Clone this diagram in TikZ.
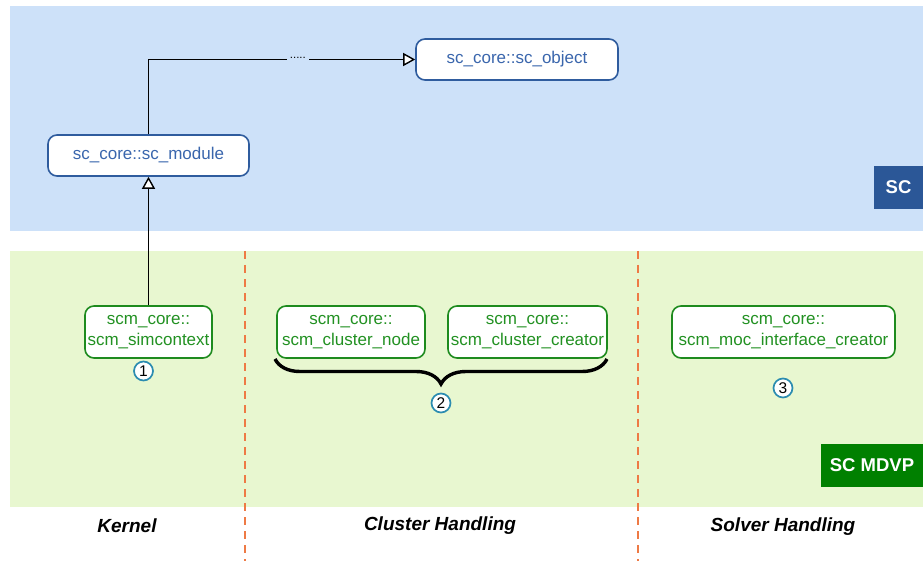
\documentclass[tikz,border=0pt]{standalone}
\usepackage{fontspec}
\setmainfont{Liberation Sans}
\usetikzlibrary{arrows.meta,decorations.pathreplacing}
\definecolor{bgblue}{HTML}{CDE1F9}
\definecolor{bgreen}{HTML}{E8F7D0}
\definecolor{nblue}{HTML}{2F5C9E}
\definecolor{tblue}{HTML}{3A66AD}
\definecolor{scblue}{HTML}{2B5797}
\definecolor{ngreen}{HTML}{1E8B1E}
\definecolor{tgreen}{HTML}{229122}
\definecolor{mdvp}{HTML}{008000}
\definecolor{dorange}{HTML}{EE7A45}
\definecolor{teal}{HTML}{2B8CB0}
\tikzset{
  bluebox/.style={draw=nblue, line width=1.6pt, fill=white, rounded corners=9pt, text=tblue,
    font=\fontsize{17}{20.5}\selectfont, inner sep=0pt, minimum height=41pt, align=center},
  greenbox/.style={draw=ngreen, line width=1.6pt, fill=white, rounded corners=9pt, text=tgreen,
    font=\fontsize{17}{20.5}\selectfont, inner sep=0pt, minimum height=52pt, align=center},
  numc/.style={circle, draw=teal, line width=1.7pt, fill=white, inner sep=0pt, minimum size=19pt,
    font=\fontsize{15.5}{15.5}\selectfont},
  lanelbl/.style={font=\fontsize{19}{22}\selectfont\bfseries\itshape},
  tagbox/.style={text=white, font=\fontsize{18.5}{20}\selectfont\bfseries, inner sep=0pt, minimum height=43pt},
  lanesep/.style={draw=dorange, line width=1.7pt, dash pattern=on 8pt off 6pt},
  inherit/.style={draw=black, line width=1.4pt, -{Triangle[open, length=12pt, width=13pt, fill=white]}},
}
\begin{document}
\begin{tikzpicture}[x=1pt, y=-1pt]
\useasboundingbox (0,0) rectangle (923,561);
% backgrounds
\fill[bgblue] (10,6) rectangle (923,231);
\fill[bgreen] (10,251) rectangle (923,507);
% lane separators
\coordinate (s1t) at (245,251); \coordinate (s1b) at (245,561);
\coordinate (s2t) at (638,251); \coordinate (s2b) at (638,561);
\draw[lanesep] (s1t) -- (s1b);
\draw[lanesep] (s2t) -- (s2b);
% tags
\node[tagbox, fill=scblue, minimum width=49pt] (sc) at (898.5,187.5) {SC};
\node[tagbox, fill=mdvp, minimum width=102pt] (mdvp) at (872,465.5) {SC MDVP};
% class nodes
\node[bluebox, minimum width=201pt] (module) at (148.5,155.5) {sc\_core::sc\_module};
\node[bluebox, minimum width=202pt] (object) at (517,59.5) {sc\_core::sc\_object};
\node[greenbox, minimum width=127pt] (simctx) at (148.5,332) {scm\_core::\\scm\_simcontext};
\node[greenbox, minimum width=148pt] (clnode) at (351,332) {scm\_core::\\scm\_cluster\_node};
\node[greenbox, minimum width=159pt] (clcreator) at (527.5,332) {scm\_core::\\scm\_cluster\_creator};
\node[greenbox, minimum width=223pt] (moc) at (783.5,332) {scm\_core::\\scm\_moc\_interface\_creator};
% connectors
\draw[inherit] (simctx.north) -- (module.south);
\draw[inherit] (module.north) |- (object.west)
  node[pos=0.78, fill=bgblue, inner xsep=3pt, inner ysep=2pt, font=\fontsize{11.5}{12}\selectfont] (dots) {\raisebox{2.5pt}{.....}};
% brace
\coordinate (bl) at (275,359);
\coordinate (br) at (607,359);
\draw[line width=3.4pt, decorate, decoration={brace, mirror, amplitude=25pt}] (bl) -- (br);
% numbers
\node[numc] (n1) at (143.5,371) {1};
\node[numc] (n2) at (441,403) {2};
\node[numc] (n3) at (783,388) {3};
% lane labels
\node[lanelbl] (kernel) at (127,526) {Kernel};
\node[lanelbl] (cluster) at (440,526) {Cluster Handling};
\node[lanelbl] (solver) at (783,527) {Solver Handling};
\end{tikzpicture}
\end{document}
